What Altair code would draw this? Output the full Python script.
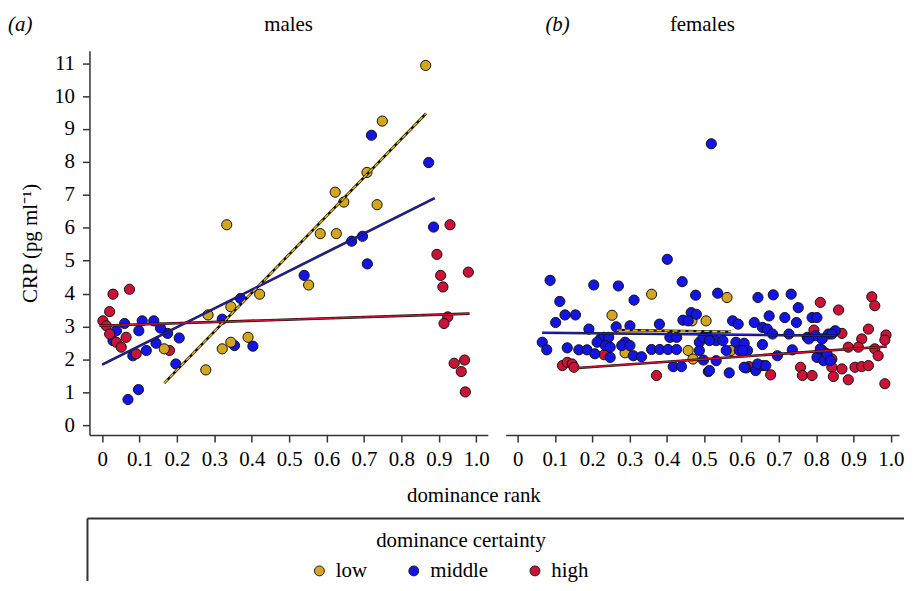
import altair as alt
import pandas as pd

FONT = "Liberation Serif"
GROUPS = ["low", "middle", "high"]
POINT_COLORS = ["#D4A520", "#1414E6", "#CC1236"]
LINE_COLORS = ["#F0C000", "#2020C8", "#D81030"]

# ---------------- males (panel a) ----------------
m_low_x = [0.865, 0.749, 0.708, 0.623, 0.646, 0.735, 0.333, 0.583, 0.626, 0.552, 0.421, 0.344,
           0.283, 0.390, 0.344, 0.321, 0.277, 0.166]
m_low_y = [10.93, 9.24, 7.68, 7.08, 6.78, 6.70, 6.09, 5.82, 5.82, 4.26, 3.98, 3.60,
           3.35, 2.67, 2.52, 2.32, 1.68, 2.32]
m_mid_x = [0.720, 0.873, 0.886, 0.667, 0.696, 0.709, 0.540, 0.370, 0.321, 0.354, 0.403, 0.206,
           0.197, 0.175, 0.156, 0.138, 0.107, 0.098, 0.060, 0.038, 0.029, 0.144, 0.118, 0.082,
           0.097, 0.069]
m_mid_y = [8.81, 7.98, 6.02, 5.59, 5.74, 4.90, 4.55, 3.85, 3.22, 2.42, 2.40, 2.65,
           1.86, 2.79, 2.95, 3.17, 3.17, 2.87, 3.09, 2.87, 2.57, 2.49, 2.27, 2.11,
           1.08, 0.78]
m_high_x = [0.029, 0.073, 0.020, 0.002, 0.011, 0.020, 0.064, 0.038, 0.051, 0.091, 0.180,
            0.930, 0.895, 0.905, 0.911, 0.979, 0.924, 0.914, 0.941, 0.969, 0.960, 0.971]
m_high_y = [3.98, 4.13, 3.45, 3.17, 3.02, 2.77, 2.67, 2.52, 2.37, 2.17, 2.27,
            6.09, 5.19, 4.55, 4.20, 4.65, 3.29, 3.09, 1.88, 1.98, 1.63, 1.01]

# ---------------- females (panel b) ----------------
f_low_x = [0.359, 0.253, 0.561, 0.467, 0.505, 0.288, 0.457, 0.470, 0.572]
f_low_y = [3.98, 3.34, 3.88, 3.17, 3.17, 2.20, 2.27, 2.01, 2.27]
f_mid_x = [0.519, 0.401, 0.087, 0.204, 0.270, 0.441, 0.312, 0.113, 0.127, 0.155, 0.102, 0.191,
           0.264, 0.301, 0.380, 0.443, 0.465, 0.479, 0.222, 0.231, 0.244, 0.213, 0.235, 0.248,
           0.066, 0.078, 0.133, 0.164, 0.186, 0.207, 0.248, 0.288, 0.279, 0.301, 0.310, 0.332,
           0.359, 0.381, 0.403, 0.426, 0.408, 0.426, 0.417, 0.439, 0.457, 0.487, 0.510, 0.532,
           0.559, 0.487, 0.498, 0.511, 0.532, 0.567, 0.585, 0.607, 0.616, 0.576, 0.591, 0.536,
           0.477, 0.644, 0.685, 0.733, 0.752, 0.634, 0.656, 0.669, 0.674, 0.716, 0.683, 0.727,
           0.747, 0.789, 0.802, 0.776, 0.798, 0.851, 0.833, 0.656, 0.696, 0.736, 0.612, 0.638,
           0.656, 0.802, 0.820, 0.594, 0.497, 0.514, 0.550, 0.603, 0.514, 0.607, 0.643, 0.665,
           0.780, 0.816, 0.842, 0.811, 0.829, 0.838]
f_mid_y = [8.55, 5.04, 4.40, 4.26, 4.23, 4.36, 3.80, 3.76, 3.35, 3.35, 3.12, 2.92,
           2.99, 3.02, 3.07, 3.19, 3.42, 3.37, 2.62, 2.67, 2.67, 2.52, 2.42, 2.37,
           2.52, 2.29, 2.35, 2.29, 2.29, 2.17, 2.06, 2.52, 2.42, 2.42, 2.11, 2.08,
           2.30, 2.30, 2.30, 2.30, 2.67, 2.67, 1.78, 1.78, 3.17, 2.52, 2.69, 2.57,
           2.27, 2.27, 1.98, 1.63, 1.96, 1.59, 2.52, 2.49, 2.27, 3.17, 3.07, 4.01,
           3.95, 3.88, 3.96, 3.98, 3.57, 3.12, 2.97, 2.92, 3.32, 3.27, 2.77, 2.77,
           3.12, 3.27, 3.27, 2.67, 2.72, 2.87, 2.77, 2.45, 2.11, 2.29, 1.74, 1.66,
           1.81, 2.06, 1.96, 2.27, 2.67, 2.57, 2.57, 2.27, 1.66, 1.76, 1.86, 1.81,
           2.62, 2.62, 2.77, 2.32, 2.17, 1.96]
f_high_x = [0.120, 0.133, 0.146, 0.151, 0.232, 0.372, 0.620, 0.678, 0.811, 0.860, 0.949, 0.957,
            0.794, 0.869, 0.940, 0.987, 0.984, 0.922, 0.886, 0.913, 0.957, 0.966, 0.816, 0.829,
            0.842, 0.758, 0.763, 0.789, 0.842, 0.869, 0.846, 0.886, 0.904, 0.922, 0.940, 0.984]
f_high_y = [1.81, 1.91, 1.86, 1.76, 2.14, 1.51, 1.78, 1.53, 3.73, 3.50, 3.90, 3.63,
            2.89, 2.79, 2.92, 2.74, 2.59, 2.62, 2.37, 2.37, 2.32, 2.11, 2.27, 2.11,
            2.01, 1.76, 1.51, 1.51, 1.76, 1.71, 1.48, 1.38, 1.76, 1.78, 1.81, 1.26]

# fitted lines: start/end x and y per group
m_line_x0 = [0.166, 0.000, -0.007]
m_line_x1 = [0.866, 0.889, 0.982]
m_line_y0 = [1.28, 1.84, 3.02]
m_line_y1 = [9.47, 6.90, 3.39]
f_line_x0 = [0.266, 0.066, 0.160]
f_line_x1 = [0.572, 0.851, 0.989]
f_line_y0 = [2.89, 2.81, 1.74]
f_line_y1 = [2.84, 2.72, 2.39]

X_TICKS = [0.0, 0.1, 0.2, 0.3, 0.4, 0.5, 0.6, 0.7, 0.8, 0.9, 1.0]
Y_TICKS = [0, 1, 2, 3, 4, 5, 6, 7, 8, 9, 10, 11]
PANEL_TITLES = ["males", "females"]
PANEL_LETTERS = ["(a)", "(b)"]
X_TITLE = ["dominance rank"]
Y_TITLE = "CRP (pg ml\u207b\u00b9)"
LEGEND_TITLE = ["dominance certainty"]


def points_df(sets):
    rows = []
    for grp, xs, ys in sets:
        for x, y in zip(xs, ys):
            rows.append({"group": grp, "rank": x, "crp": y})
    return pd.DataFrame(rows)


def lines_df(x0, x1, y0, y1):
    rows = []
    for i, g in enumerate(GROUPS):
        rows.append({"group": g, "rank": x0[i], "crp": y0[i], "k": 0})
        rows.append({"group": g, "rank": x1[i], "crp": y1[i], "k": 1})
    return pd.DataFrame(rows)


m_pts = points_df([("middle", m_mid_x, m_mid_y), ("high", m_high_x, m_high_y), ("low", m_low_x, m_low_y)])
f_pts = points_df([("high", f_high_x, f_high_y), ("low", f_low_x, f_low_y), ("middle", f_mid_x, f_mid_y)])
m_lines = lines_df(m_line_x0, m_line_x1, m_line_y0, m_line_y1)
f_lines = lines_df(f_line_x0, f_line_x1, f_line_y0, f_line_y1)

Y_SCALE = alt.Scale(domain=[-0.30, 11.38], nice=False, zero=False)
COLOR_SCALE = alt.Scale(domain=GROUPS, range=POINT_COLORS)
LINE_SCALE = alt.Scale(domain=GROUPS, range=LINE_COLORS)

x_axis = alt.Axis(values=X_TICKS, labelExpr="datum.value == 0 ? '0' : format(datum.value, '.1f')",
                  title=None, grid=False, labelFont=FONT, labelFontSize=21, labelColor="black",
                  tickSize=7, tickColor="#333", domainColor="#333", domainWidth=1.5, tickWidth=1.5,
                  labelPadding=7, labelFlush=False, labelOverlap=False)
y_axis = alt.Axis(values=Y_TICKS, title=Y_TITLE, grid=False, labelFont=FONT, labelFontSize=21,
                  labelColor="black", tickSize=7, tickColor="#333", domainColor="#333",
                  domainWidth=1.5, tickWidth=1.5, labelPadding=8, titleFont=FONT, titleFontSize=21,
                  titleFontWeight="normal", titleColor="black", titlePadding=13)


def text_layer(txt, x, y, italic=False, align="center"):
    return alt.Chart(pd.DataFrame({"t": txt})).mark_text(
        font=FONT, fontSize=21, fontStyle="italic" if italic else "normal", align=align,
        baseline="middle", color="black").encode(text="t:N", x=alt.value(x), y=alt.value(y))


def panel(pts, lns, x_domain, width, left, idx):
    xs = alt.Scale(domain=x_domain, nice=False, zero=False)
    if left:
        color = alt.Color("group:N", scale=COLOR_SCALE, sort=GROUPS,
                          legend=alt.Legend(title=None, orient="none", legendX=221, legendY=513,
                                            direction="horizontal", labelFont=FONT, labelFontSize=21,
                                            labelColor="black", symbolType="circle", symbolSize=100,
                                            symbolStrokeColor="#222", symbolStrokeWidth=1,
                                            columnPadding=36, labelOffset=6, padding=0))
        yax = y_axis
    else:
        color = alt.Color("group:N", scale=COLOR_SCALE, sort=GROUPS, legend=None)
        yax = None
    xenc = alt.X("rank:Q", scale=xs, axis=x_axis)
    yenc = alt.Y("crp:Q", scale=Y_SCALE, axis=yax)
    p = alt.Chart(pts).mark_circle(size=105, opacity=1, stroke="#111", strokeWidth=1).encode(
        x=xenc, y=yenc, color=color)
    under = alt.Chart(lns).mark_line(color="#111", strokeWidth=2.6).encode(
        x=xenc, y=yenc, detail="group:N", order="k:Q")
    over = alt.Chart(lns).mark_line(strokeWidth=1.4).encode(
        x=xenc, y=yenc, order="k:Q",
        color=alt.Color("group:N", scale=LINE_SCALE, legend=None),
        strokeDash=alt.condition("datum.group == 'low'", alt.value([5, 3]), alt.value([1, 0])))
    layers = [p, under, over,
              text_layer([PANEL_TITLES[idx]], width / 2, -26),
              text_layer([PANEL_LETTERS[idx]], -82 if left else 40, -26, italic=True, align="left")]
    if left:
        rule_df = pd.DataFrame({"k": [0]})
        box_top = alt.Chart(rule_df).mark_rule(color="#333", strokeWidth=2).encode(
            x=alt.value(-2), x2=alt.value(820), y=alt.value(471))
        box_left = alt.Chart(rule_df).mark_rule(color="#333", strokeWidth=2).encode(
            x=alt.value(-2), y=alt.value(471), y2=alt.value(534))
        layers += [text_layer(X_TITLE, 387, 448), text_layer(LEGEND_TITLE, 374, 494), box_top, box_left]
    ch = alt.layer(*layers).properties(width=width, height=387)
    return ch.resolve_scale(color="independent")


left = panel(m_pts, m_lines, [-0.034, 1.031], 401, True, 0)
right = panel(f_pts, f_lines, [-0.032, 1.022], 396, False, 1)

chart = alt.hconcat(left, right, spacing=18, bounds="flush").resolve_scale(
    color="independent").resolve_legend(color="independent").properties(
    padding={"left": 0, "top": 4, "right": 0, "bottom": 0}, background="white"
).configure_view(strokeWidth=0, stroke="transparent")

chart.save("out.html", embed_options={"renderer": "svg", "actions": False})
